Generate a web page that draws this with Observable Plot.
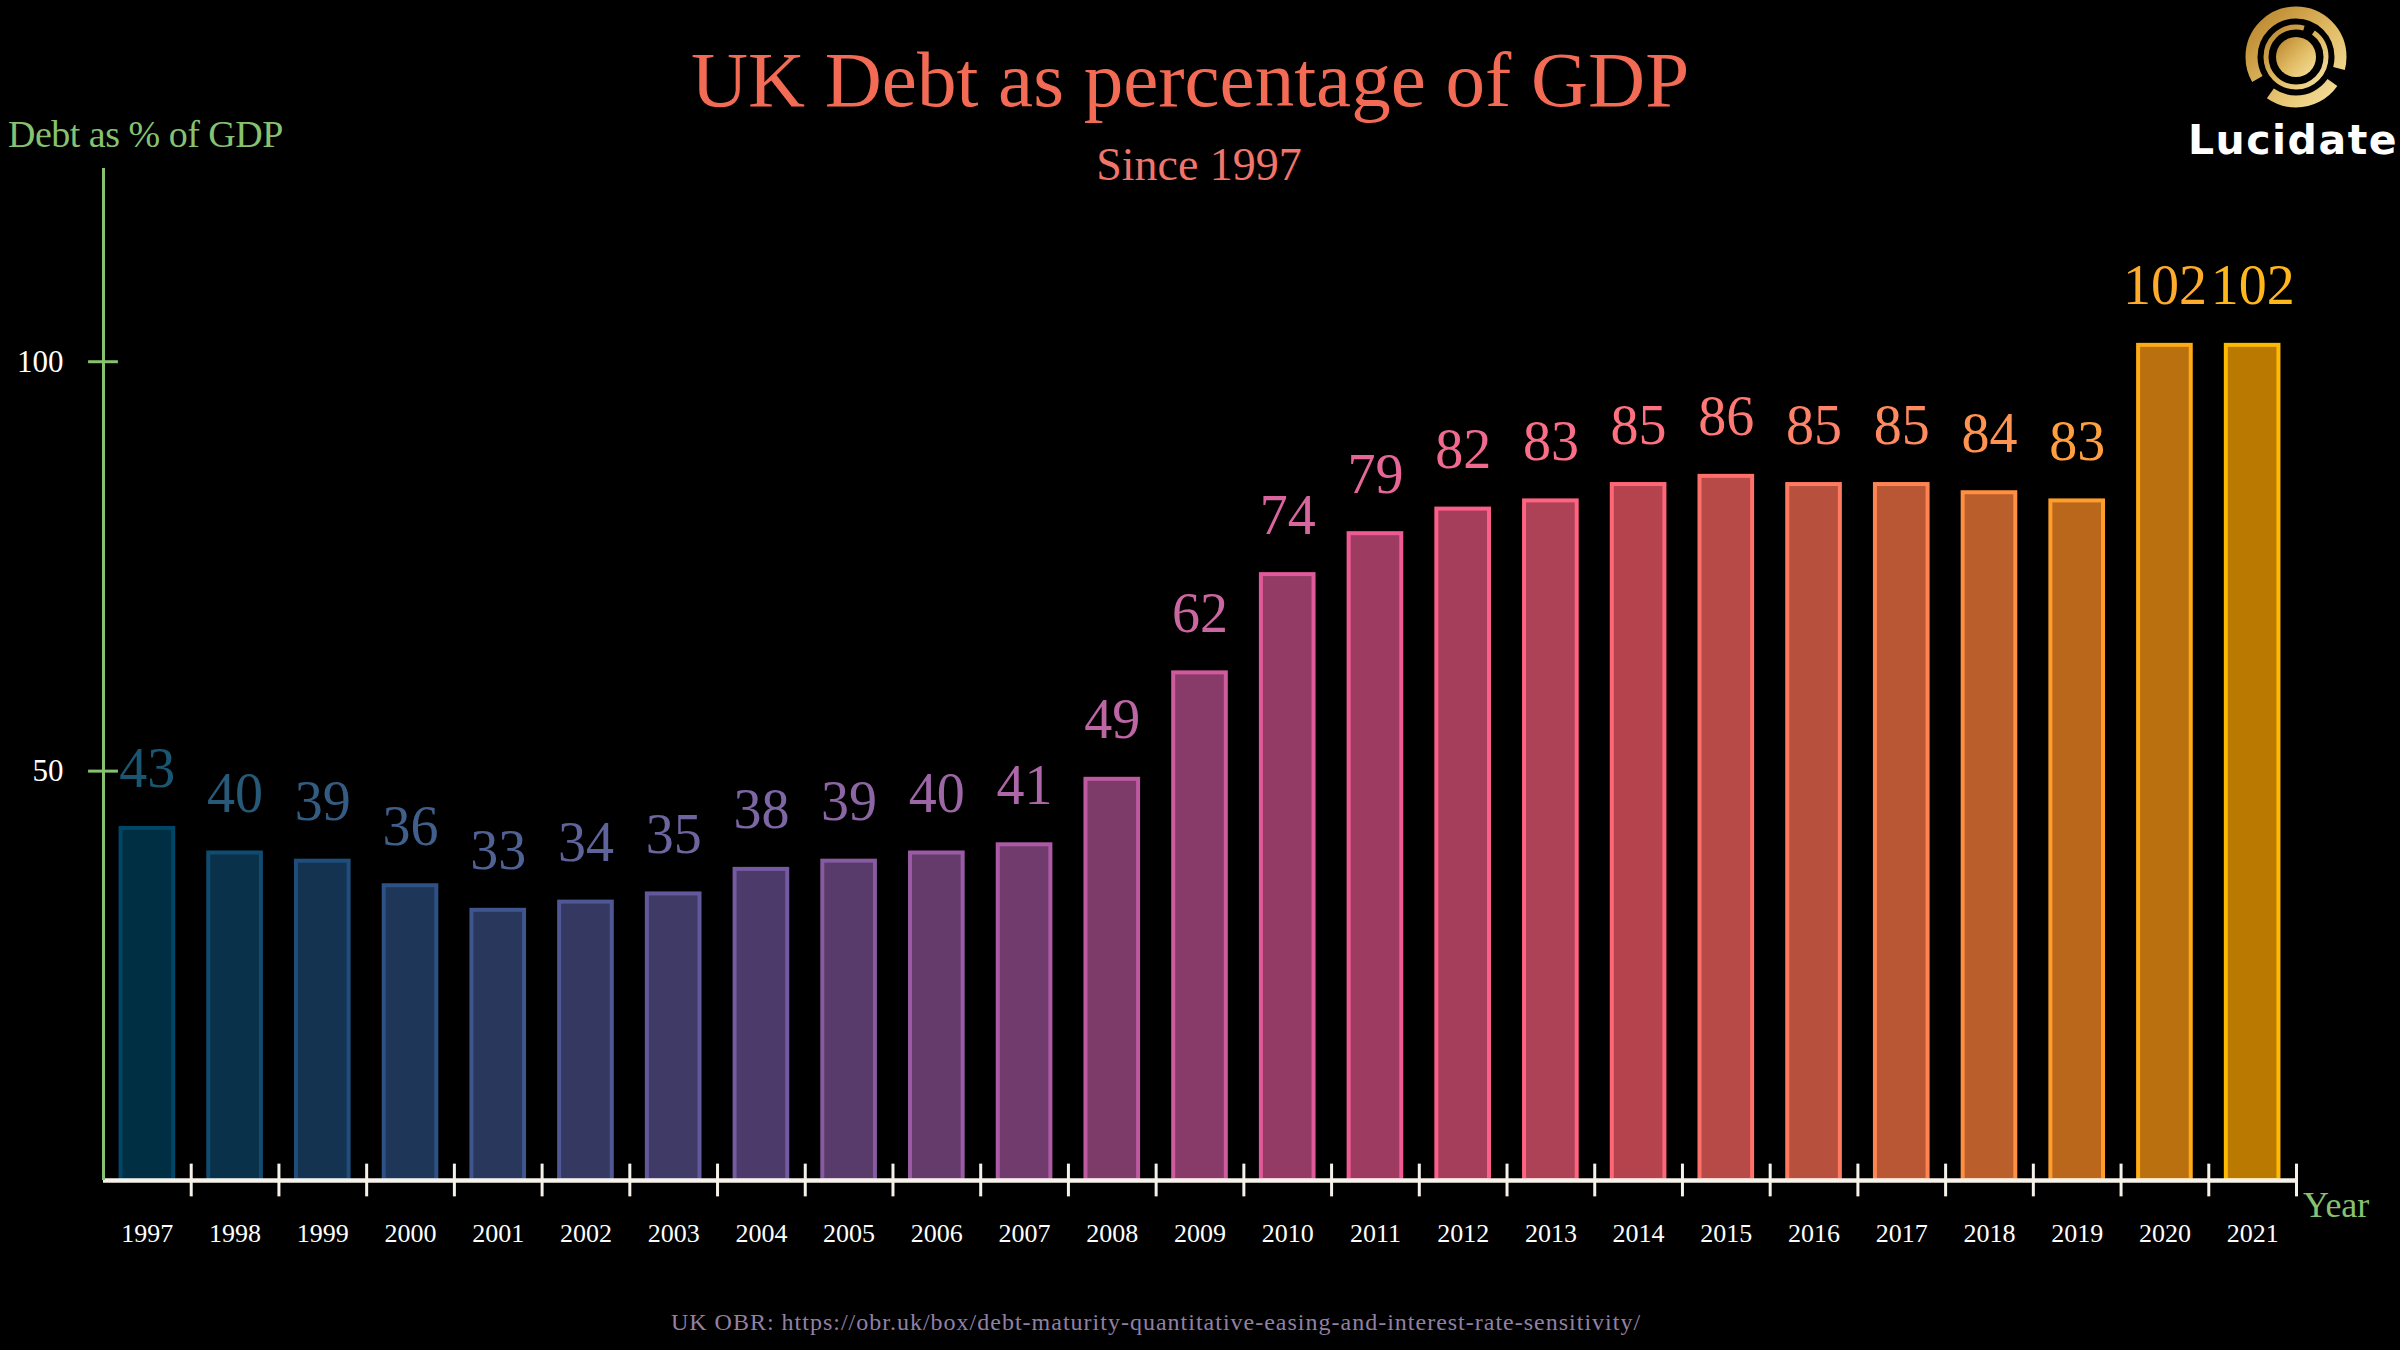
<!DOCTYPE html>
<html><head><meta charset="utf-8">
<script src="https://cdn.jsdelivr.net/npm/d3@7"></script>
<script src="https://cdn.jsdelivr.net/npm/@observablehq/plot@0.6"></script>
<style>
html,body{margin:0;padding:0;background:#000;}
#wrap{position:relative;width:2400px;height:1350px;background:#000;overflow:hidden;}
.t{position:absolute;white-space:nowrap;line-height:1;font-family:"Liberation Serif",serif;}
#chart{position:absolute;left:0;top:0;}
</style></head>
<body><div id="wrap">
<div id="chart"></div>
<div class="t" id="title" style="left:1190px;top:40px;font-size:79px;color:#f36b54;transform:translateX(-50%)">UK Debt as percentage of GDP</div>
<div class="t" id="subtitle" style="left:1199px;top:142px;font-size:46px;color:#f2756c;transform:translateX(-50%)">Since 1997</div>
<div class="t" id="ylabel" style="left:8px;top:115px;font-size:38px;color:#86c270;letter-spacing:-0.5px">Debt as % of GDP</div>
<div class="t" id="xlabel" style="left:2303px;top:1187px;font-size:36px;color:#86c270">Year</div>
<div class="t" id="caption" style="left:1156px;top:1310px;font-size:24px;color:#9280a6;letter-spacing:1px;transform:translateX(-50%)">UK OBR: https://obr.uk/box/debt-maturity-quantitative-easing-and-interest-rate-sensitivity/</div>
<svg id="logo" width="240" height="180" viewBox="2160 0 240 180" style="position:absolute;left:2160px;top:0">
  <defs>
    <linearGradient id="gold" x1="0" y1="0" x2="1" y2="1">
      <stop offset="0" stop-color="#b8832a"/>
      <stop offset="0.55" stop-color="#e2bd66"/>
      <stop offset="1" stop-color="#f6e2a0"/>
    </linearGradient>
  </defs>
  <circle cx="2296" cy="57" r="20" fill="url(#gold)"/>
  <circle cx="2296" cy="57" r="30" fill="none" stroke="url(#gold)" stroke-width="5" stroke-dasharray="149.2 10.5 28.8"/>
  <circle cx="2296" cy="57" r="44.5" fill="none" stroke="url(#gold)" stroke-width="12" stroke-dasharray="11.65 15.53 69.9 19.4 163.1"/>
  <text x="2293" y="154" text-anchor="middle" font-family="DejaVu Sans" font-weight="bold" font-size="41" fill="#ffffff" letter-spacing="1.5">Lucidate</text>
</svg>
</div>
<script>
// ---- data ----
const years = [1997,1998,1999,2000,2001,2002,2003,2004,2005,2006,2007,2008,2009,2010,2011,2012,2013,2014,2015,2016,2017,2018,2019,2020,2021];
const debt  = [43,40,39,36,33,34,35,38,39,40,41,49,62,74,79,82,83,85,86,85,85,84,83,102,102];
const yTicks = [50,100];
const palette = ["#003f5c","#2f4b7c","#665191","#a05195","#d45087","#f95d6a","#ff7c43","#ffa600"];

const interp = d3.piecewise(d3.interpolateRgb, palette);
const n = years.length;
const data = years.map((year, i) => {
  const c = d3.color(interp(i / (n - 1)));
  return {
    year,
    value: debt[i],
    fill: c.formatHex(),
    stroke: c.brighter(0.3).formatHex(),
    label: d3.color(d3.interpolateRgb(c.brighter(0.15), "#ffffff")(0.1)).formatHex()
  };
});
const boundaries = years.map(y => y + 0.5);
const x0 = years[0] - 0.5;
const green = "#86c270";
const serif = "Liberation Serif";

const chart = Plot.plot({
  width: 2400,
  height: 1350,
  marginTop: 168,
  marginBottom: 170,
  marginLeft: 103,
  marginRight: 104,
  style: {background: "transparent", color: "white", fontFamily: serif, overflow: "visible"},
  x: {type: "linear", domain: [x0, years[n - 1] + 0.5]},
  y: {domain: [0, 123.6]},
  color: {type: "identity"},
  marks: [
    Plot.rectY(data, {
      x1: d => d.year - 0.3,
      x2: d => d.year + 0.3,
      y: "value",
      fill: "fill",
      fillOpacity: 0.73,
      stroke: "stroke",
      strokeWidth: 4
    }),
    Plot.text(data, {
      x: "year",
      y: "value",
      text: d => String(d.value),
      fill: "label",
      fontSize: 56,
      fontFamily: serif,
      lineAnchor: "bottom",
      dy: -41
    }),
    Plot.ruleY([0], {stroke: "#f6f2ea", strokeWidth: 4.5}),
    Plot.ruleX(boundaries, {y1: -2, y2: 2, stroke: "#f6f2ea", strokeWidth: 3}),
    Plot.ruleX([x0], {stroke: green, strokeWidth: 3}),
    Plot.ruleY(yTicks, {x1: x0 - 0.17, x2: x0 + 0.17, stroke: green, strokeWidth: 3}),
    Plot.axisY({ticks: yTicks, tickSize: 0, tickPadding: 40, fontSize: 31, fill: "white", label: null}),
    Plot.axisX({ticks: years, tickFormat: d => String(d), tickSize: 0, tickPadding: 43, fontSize: 26, fill: "white", label: null})
  ]
});
document.getElementById("chart").appendChild(chart);
</script>
</body></html>
